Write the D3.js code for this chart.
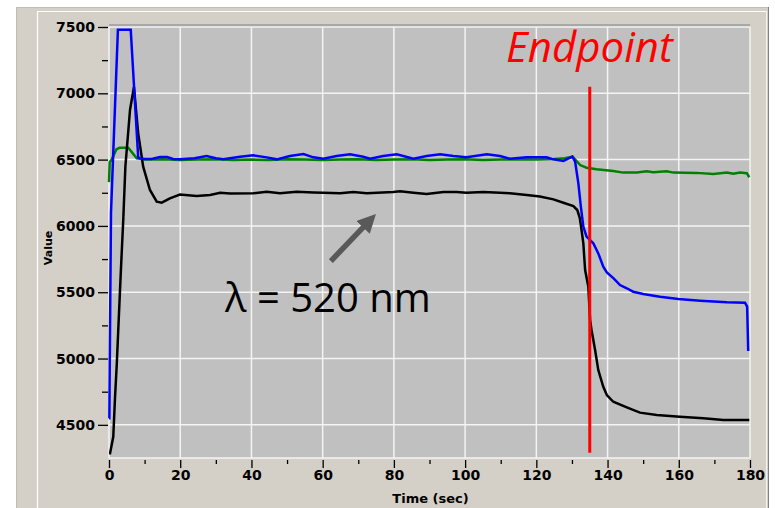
<!DOCTYPE html>
<html><head><meta charset="utf-8">
<script src="https://cdn.jsdelivr.net/npm/d3@7"></script>
<style>body{margin:0;background:#fff;overflow:hidden}</style>
</head><body><svg id="c" width="775" height="508"></svg>
<script>
// ---- data ----
const xTicks = [0, 20, 40, 60, 80, 100, 120, 140, 160, 180];
const xMinorTicks = [10, 30, 50, 70, 90, 110, 130, 150, 170];
const yTicks = [4500, 5000, 5500, 6000, 6500, 7000, 7500];
const yMinorTicks = [4750, 5250, 5750, 6250, 6750, 7250];

const blueTime = [0, 0.1, 0.2, 0.56, 2.5, 6.1, 8.2, 10, 12, 14.3, 16.3, 18, 19.9, 24, 27.4, 30, 32.1, 36.8, 40.5, 44.3, 47.1, 50.8, 54.6, 57.4, 60.2, 63.9, 67.7, 71.4, 73.3, 77.0, 80.8, 85.5, 89.2, 93.0, 96.7, 100.4, 106.1, 109.8, 112.6, 117.3, 122.9, 124.8, 127.6, 130.1, 130.9, 131.8, 132.5, 133.2, 134.1, 136.0, 137.4, 138.8, 139.8, 141.7, 143.5, 145.4, 147.2, 150, 154.7, 159.9, 166, 173.5, 178.6, 179.2, 179.5];
const blueValue = [4550, 4550, 4910, 6100, 7480, 7480, 6515, 6505, 6505, 6520, 6520, 6505, 6502, 6510, 6527, 6510, 6502, 6522, 6532, 6517, 6502, 6527, 6542, 6517, 6507, 6527, 6540, 6522, 6507, 6527, 6540, 6507, 6527, 6540, 6527, 6517, 6540, 6527, 6507, 6517, 6517, 6502, 6490, 6522, 6484, 6321, 6145, 5994, 5919, 5869, 5793, 5693, 5650, 5605, 5554, 5530, 5504, 5486, 5466, 5449, 5436, 5424, 5421, 5391, 5057];

const greenTime = [0, 0.2, 0.75, 2.1, 3, 5.4, 7.8, 10, 15, 20, 25, 30, 35, 40, 45, 50, 55, 60, 65, 70, 75, 80, 85, 90, 95, 100, 105, 110, 115, 120, 125, 128, 130.2, 132.3, 134.1, 136.9, 141.6, 144.4, 148.2, 151, 152.8, 156.6, 158.5, 165, 169.7, 173.5, 175.3, 177.2, 179.1, 179.8];
const greenValue = [6330, 6480, 6500, 6578, 6590, 6590, 6510, 6500, 6502, 6497, 6500, 6503, 6497, 6500, 6497, 6502, 6500, 6497, 6500, 6503, 6497, 6500, 6502, 6497, 6500, 6503, 6497, 6500, 6502, 6500, 6505, 6510, 6522, 6459, 6439, 6427, 6414, 6402, 6402, 6412, 6405, 6412, 6402, 6400, 6391, 6402, 6393, 6402, 6398, 6367];

const blackTime = [0, 0.3, 1.2, 1.7, 2.2, 2.6, 3.3, 4.0, 4.6, 5.9, 7.0, 8.2, 9.6, 11.5, 13.4, 14.8, 17.1, 19.9, 24.6, 28.4, 31.2, 34.0, 40.5, 44.3, 48.0, 52.7, 57.4, 60.2, 64.9, 68.6, 72.4, 79.8, 81.7, 85.5, 89.2, 93.9, 97.6, 100.4, 105.1, 109.8, 112.6, 117.3, 121.0, 124.8, 127.6, 130.4, 131.5, 132.2, 132.7, 133.2, 133.7, 134.6, 135.1, 135.5, 136.5, 137.4, 138.8, 139.8, 141.6, 145.4, 149.1, 153.8, 160.3, 166.9, 172.5, 179.8];
const blackValue = [4285, 4285, 4410, 4712, 4966, 5215, 5642, 6045, 6447, 6874, 7047, 6698, 6447, 6271, 6183, 6175, 6208, 6236, 6226, 6233, 6250, 6244, 6246, 6258, 6246, 6258, 6252, 6250, 6246, 6255, 6246, 6255, 6261, 6250, 6240, 6255, 6255, 6250, 6255, 6250, 6246, 6233, 6222, 6200, 6175, 6150, 6120, 6060, 5969, 5869, 5667, 5542, 5290, 5215, 5064, 4913, 4787, 4725, 4674, 4632, 4592, 4574, 4561, 4549, 4536, 4536];

const endpointTime = [135, 135];
const endpointValue = [7050, 4290];
const labels = {endpoint: "Endpoint", wavelength: "λ = 520 nm", xTitle: "Time (sec)", yTitle: "Value"};

// ---- layout ----
const svg = d3.select("#c");
const L = 109, R = 750, T = 27, B = 458;
const x = d3.scaleLinear().domain([0, 180]).range([L, R]);
const y = d3.scaleLinear().domain([4250, 7500]).range([B, T]);

// frame
svg.append("rect").attr("x", 16).attr("y", 7).attr("width", 753).attr("height", 510).attr("fill", "#d4d0c8");
svg.append("line").attr("x1", 16.5).attr("x2", 16.5).attr("y1", 7).attr("y2", 508).attr("stroke", "#c0bdb5").attr("stroke-width", 1);
svg.append("line").attr("x1", 16).attr("x2", 769).attr("y1", 7.5).attr("y2", 7.5).attr("stroke", "#c0bdb5").attr("stroke-width", 1);
svg.append("line").attr("x1", 37.5).attr("x2", 37.5).attr("y1", 11).attr("y2", 508).attr("stroke", "#fff").attr("stroke-width", 1.2);
svg.append("line").attr("x1", 37).attr("x2", 767).attr("y1", 11.5).attr("y2", 11.5).attr("stroke", "#fff").attr("stroke-width", 1.2);
svg.append("line").attr("x1", 766.5).attr("x2", 766.5).attr("y1", 11).attr("y2", 508).attr("stroke", "#f4f3f0").attr("stroke-width", 1);
svg.append("line").attr("x1", 768.5).attr("x2", 768.5).attr("y1", 7).attr("y2", 508).attr("stroke", "#808080").attr("stroke-width", 1);

// plot background
svg.append("rect").attr("x", L).attr("y", T - 3).attr("width", R - L).attr("height", 3).attr("fill", "#a8a8a8");
svg.append("rect").attr("x", L).attr("y", T).attr("width", R - L).attr("height", B - T).attr("fill", "#c0c0c0");

// grid
const grid = svg.append("g").attr("stroke", "#f4f4f4").attr("stroke-width", 1.5);
grid.selectAll(".gx").data(xTicks).join("line")
  .attr("x1", d => x(d)).attr("x2", d => x(d)).attr("y1", T).attr("y2", B);
grid.selectAll(".gy").data(yTicks).join("line")
  .attr("x1", L).attr("x2", R).attr("y1", d => y(d)).attr("y2", d => y(d));
grid.append("line").attr("x1", L).attr("x2", R).attr("y1", B).attr("y2", B);

// axes
const font = "'DejaVu Sans', sans-serif";
const yAxis = svg.append("g").attr("transform", `translate(${L - 1},0)`)
  .call(d3.axisLeft(y).tickValues(yTicks).tickSize(10).tickPadding(3).tickFormat(d3.format("d")));
const yMinor = svg.append("g").attr("transform", `translate(${L - 1},0)`)
  .call(d3.axisLeft(y).tickValues(yMinorTicks).tickSize(6).tickFormat(""));
const xAxis = svg.append("g").attr("transform", `translate(0,${B + 2})`)
  .call(d3.axisBottom(x).tickValues(xTicks).tickSize(8).tickPadding(2).tickFormat(d3.format("d")));
const xMinor = svg.append("g").attr("transform", `translate(0,${B + 2})`)
  .call(d3.axisBottom(x).tickValues(xMinorTicks).tickSize(4).tickFormat(""));
[yAxis, yMinor, xAxis, xMinor].forEach(g => {
  g.select(".domain").remove();
  g.selectAll("line").attr("stroke", "#000").attr("stroke-width", 1.3);
  g.selectAll("text").attr("fill", "#000").style("font-family", font).style("font-weight", "bold").style("font-size", "14px");
});

svg.append("text").attr("x", (L + R) / 2 + 1).attr("y", 503).attr("text-anchor", "middle")
  .style("font-family", font).style("font-weight", "bold").style("font-size", "13px").text(labels.xTitle);
svg.append("text").attr("transform", "translate(52,248) rotate(-90)").attr("text-anchor", "middle")
  .style("font-family", font).style("font-weight", "bold").style("font-size", "11px").text(labels.yTitle);

// series
const line = d3.line().x(d => x(d[0])).y(d => y(d[1]));
const series = [
  {t: greenTime, v: greenValue, c: "#008000"},
  {t: blackTime, v: blackValue, c: "#000000"},
  {t: blueTime, v: blueValue, c: "#0000ff"}
];
series.forEach(s => {
  svg.append("path").datum(d3.zip(s.t, s.v)).attr("d", line)
    .attr("fill", "none").attr("stroke", s.c).attr("stroke-width", 2.5).attr("stroke-linejoin", "miter");
});

// endpoint marker
svg.append("line").attr("x1", x(endpointTime[0])).attr("x2", x(endpointTime[1]))
  .attr("y1", y(endpointValue[0])).attr("y2", y(endpointValue[1]))
  .attr("stroke", "#ff0000").attr("stroke-width", 3);
svg.append("text").attr("x", x(111.5)).attr("y", y(7236)).attr("fill", "#ff0000")
  .style("font-family", "'Open Sans', sans-serif").style("font-style", "italic").style("font-size", "42px")
  .text(labels.endpoint);

// arrow + wavelength label
const defs = svg.append("defs");
defs.append("marker").attr("id", "ah").attr("viewBox", "0 0 10 10").attr("refX", 6).attr("refY", 5)
  .attr("markerWidth", 3.4).attr("markerHeight", 3.4).attr("orient", "auto")
  .append("path").attr("d", "M0,0 L10,5 L0,10 Z").attr("fill", "#595959");
svg.append("line").attr("x1", x(62.3)).attr("y1", y(5735)).attr("x2", x(73.5)).attr("y2", y(6050))
  .attr("stroke", "#595959").attr("stroke-width", 5.5).attr("marker-end", "url(#ah)");
svg.append("text").attr("x", x(32.6)).attr("y", y(5351)).attr("fill", "#000")
  .style("font-family", "'Open Sans', sans-serif").style("font-size", "40px")
  .text(labels.wavelength);
</script></body></html>
